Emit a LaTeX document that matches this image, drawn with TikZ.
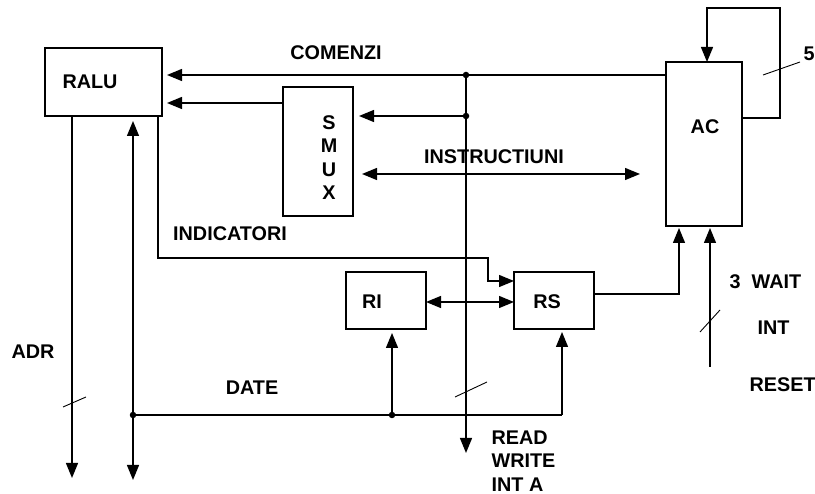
\documentclass[tikz,border=0pt]{standalone}
\usepackage{fontspec}
\setmainfont{Liberation Sans}
\usetikzlibrary{arrows.meta,calc}
\begin{document}
\begin{tikzpicture}[x=1pt,y=-1pt,
  line width=1.3pt,
  box/.style={draw,rectangle,inner sep=0pt,outer sep=0pt},
  lbl/.style={font=\fontsize{19.8}{23.5}\selectfont\bfseries,inner sep=0pt},
  arr/.style={-{Triangle[length=15pt,width=12pt]}},
  darr/.style={{Triangle[length=15pt,width=12pt]}-{Triangle[length=15pt,width=12pt]}},
  slash/.style={line width=0.9pt},
  dot/.style={circle,fill,inner sep=0pt,minimum size=6.5pt}]
\useasboundingbox (0,0) rectangle (815,494);
% boxes
\node[box,minimum width=117pt,minimum height=68pt] (ralu) at (103.5,82) {};
\node[box,minimum width=70pt,minimum height=129pt] (smux) at (318,151.5) {};
\node[box,minimum width=76pt,minimum height=164pt] (ac) at (704,144) {};
\node[box,minimum width=80pt,minimum height=57pt] (ri) at (386,300.5) {};
\node[box,minimum width=80pt,minimum height=57pt] (rs) at (554,300.5) {};
% box texts
\node[lbl] (tralu) at (90,82) {RALU};
\node[lbl,align=center] (tsmux) at (329,157.5) {S\\M\\U\\X};
\node[lbl] (tac) at (705,127) {AC};
\node[lbl] (tri) at (372,302) {RI};
\node[lbl] (trs) at (547,302) {RS};
% labels
\node[lbl] (lcom) at (336,53) {COMENZI};
\node[lbl] (lins) at (494,157) {INSTRUCTIUNI};
\node[lbl] (lind) at (230,234) {INDICATORI};
\node[lbl] (ladr) at (33,352) {ADR};
\node[lbl] (ldate) at (252,388) {DATE};
\node[lbl,anchor=west,align=left] (lrw) at (491,461) {READ\\WRITE\\INT A};
\node[lbl,anchor=west] (lwait) at (729,282) {3\ \ WAIT};
\node[lbl,anchor=west] (lint) at (757,328) {INT};
\node[lbl,anchor=west] (lreset) at (749,385) {RESET};
\node[lbl,anchor=west] (l5) at (803,54) {5};
% coordinates
\coordinate (j1) at (466,75);
\coordinate (j2) at (466,116);
\coordinate (j3) at (466,453);
\coordinate (m1) at (0,103);
\coordinate (i1) at (362,174);
\coordinate (i2) at (640,174);
\coordinate (f1) at (780,118);
\coordinate (f2) at (780,8);
\coordinate (f3) at (707,8);
\coordinate (r1) at (679,294);
\coordinate (w1) at (710,367);
\coordinate (n1) at (158,258);
\coordinate (n2) at (488,258);
\coordinate (n3) at (488,281);
\coordinate (a1) at (72,478);
\coordinate (d0) at (133,415);
\coordinate (d1) at (133,480);
\coordinate (d2) at (392,415);
\coordinate (d3) at (562,415);
\coordinate (x1) at (0,302);
% connectors
\draw[arr,shorten >=5pt] (ac.west |- j1) -- (ralu.east |- j1);
\draw[arr] (j1) -- (j3);
\draw[arr,shorten >=6pt] (j2) -- (smux.east |- j2);
\draw[arr,shorten >=5pt] (smux.west |- m1) -- (ralu.east |- m1);
\draw[darr] (i1) -- (i2);
\draw[arr] (ac.east |- f1) -- (f1) -- (f2) -- (f3) -- (ac.north -| f3);
\draw[arr,shorten >=2pt] (rs.east |- r1) -- (r1) -- (ac.south -| r1);
\draw[arr,shorten >=2pt] (w1) -- (ac.south -| w1);
\draw[arr] (ralu.south -| n1) -- (n1) -- (n2) -- (n3) -- (rs.west |- n3);
\draw[arr] (ralu.south -| a1) -- (a1);
\draw[arr] (d0) -- (d1);
\draw[arr,shorten >=5pt] (d0) -- (ralu.south -| d0);
\draw (d0) -- (d3);
\draw[arr,shorten >=3pt] (d3) -- (rs.south -| d3);
\draw[arr,shorten >=4pt] (d2) -- (ri.south -| d2);
\draw[darr] (ri.east |- x1) -- (rs.west |- x1);
% dots
\node[dot] (dj1) at (j1) {};
\node[dot] (dj2) at (j2) {};
\node[dot] (dd0) at (d0) {};
\node[dot] (dd2) at (d2) {};
% bus slashes
\draw[slash] (763,75) -- (800,62);
\draw[slash] (700,332) -- (720,310);
\draw[slash] (455,397) -- (487,382);
\draw[slash] (63,407) -- (86,397);
\end{tikzpicture}
\end{document}
